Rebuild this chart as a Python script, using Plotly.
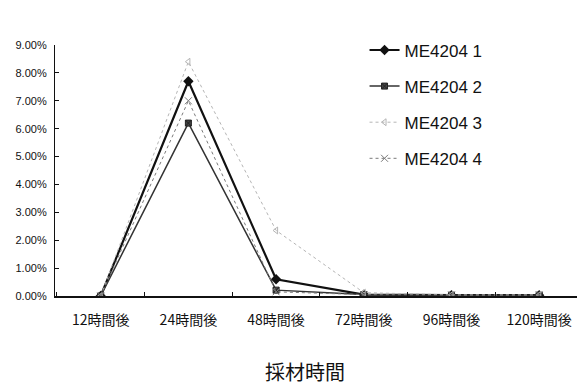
import plotly.graph_objects as go

# Sampling time points and measured ratios (fractions)
categories = ["12時間後", "24時間後", "48時間後", "72時間後", "96時間後", "120時間後"]
series_names = ["ME4204 1", "ME4204 2", "ME4204 3", "ME4204 4"]
s1 = [0.0000, 0.0770, 0.0060, 0.0005, 0.0003, 0.0003]
s2 = [0.0000, 0.0620, 0.0021, 0.0005, 0.0003, 0.0003]
s3 = [0.0000, 0.0840, 0.0235, 0.0012, 0.0004, 0.0004]
s4 = [0.0000, 0.0700, 0.0015, 0.0005, 0.0004, 0.0004]
y_ticks = [0.00, 0.01, 0.02, 0.03, 0.04, 0.05, 0.06, 0.07, 0.08, 0.09]

styles = [
    dict(line=dict(color="#111111", width=2.2),
         marker=dict(symbol="diamond", size=8, color="#111111")),
    dict(line=dict(color="#333333", width=1.5),
         marker=dict(symbol="square-x", size=6, color="#444444",
                     line=dict(color="#222222", width=1))),
    dict(line=dict(color="#b5b5b5", width=1, dash="dot"),
         marker=dict(symbol="triangle-left-open", size=6, color="#b5b5b5")),
    dict(line=dict(color="#7a7a7a", width=1, dash="dot"),
         marker=dict(symbol="x-thin-open", size=7,
                     line=dict(color="#7a7a7a", width=1))),
]

xs = list(range(len(categories)))
fig = go.Figure()
for i, (name, vals) in enumerate(zip(series_names, [s1, s2, s3, s4])):
    fig.add_trace(go.Scatter(
        x=xs, y=vals, name=name, mode="lines+markers",
        legendgroup=f"g{i}", **styles[i]))

fig.update_layout(
    width=577, height=390,
    margin=dict(l=55, r=0, t=45, b=94),
    plot_bgcolor="white", paper_bgcolor="white",
    font=dict(family="Liberation Sans, Arial, sans-serif", color="#111111"),
    legend=dict(
        x=0.593, y=1.05, xanchor="left", yanchor="top",
        font=dict(size=17, family="Liberation Sans, Arial, sans-serif"),
        tracegroupgap=11, bgcolor="rgba(0,0,0,0)",
    ),
    xaxis=dict(
        range=[-0.521, 5.431],
        tickvals=xs, ticktext=categories,
        ticks="", showgrid=False, zeroline=False,
        showline=True, linecolor="#111111", linewidth=1.5,
        tickfont=dict(size=14, family="Noto Sans CJK JP", color="#111111"),
        ticklabelstandoff=10,
        minor=dict(ticks="inside", tick0=0.5, dtick=1, ticklen=4,
                   tickcolor="#111111", showgrid=False),
    ),
    yaxis=dict(
        range=[0, 0.09], tickvals=y_ticks, tickformat=".2%",
        ticks="inside", ticklen=4, tickcolor="#111111",
        showgrid=False, zeroline=False,
        showline=True, linecolor="#111111", linewidth=1.2,
        tickfont=dict(size=11, family="Liberation Sans, Arial, sans-serif",
                      color="#111111"),
        ticklabelstandoff=5,
    ),
    annotations=[dict(
        text="採材時間", x=0.478, y=-0.3, xref="paper", yref="paper",
        showarrow=False, xanchor="center", yanchor="middle",
        font=dict(size=20, family="Noto Sans CJK JP", color="#111111"),
    )],
)

fig.write_html("out.html")
